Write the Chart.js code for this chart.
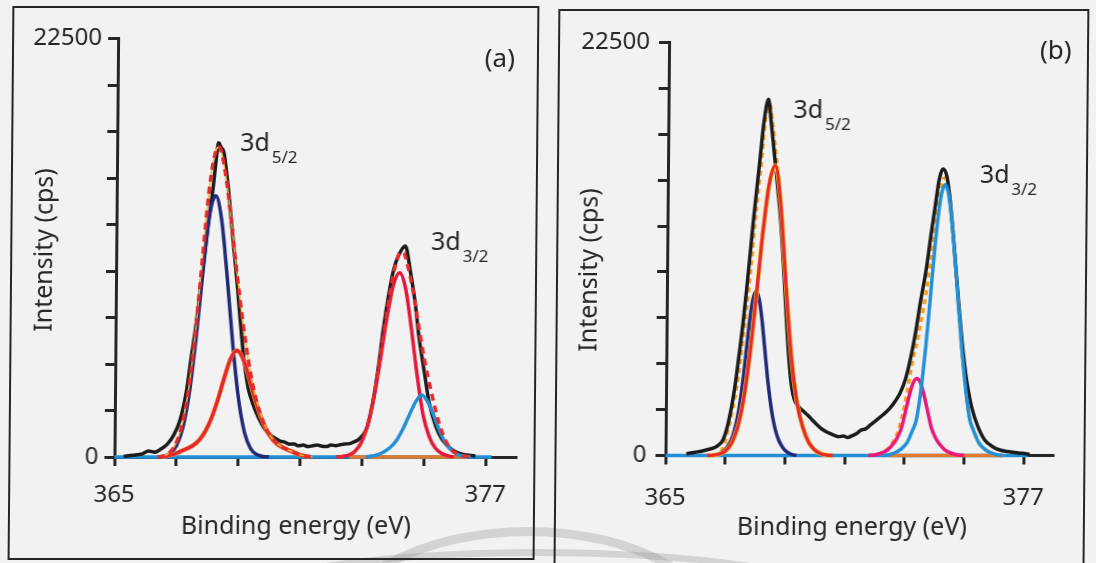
<!DOCTYPE html>
<html>
<head>
<meta charset="utf-8">
<script src="https://cdn.jsdelivr.net/npm/chart.js@4.4.1/dist/chart.umd.min.js"></script>
<style>
  html, body { margin: 0; padding: 0; background: #f2f2f3; }
  #page { position: relative; width: 1096px; height: 563px; overflow: hidden; transform: skewX(-0.5deg); }
  .box { position: absolute; border: 2px solid #262626; }
  #boxA { left: 10px; top: 6px; width: 523px; height: 550px; }
  #boxB { left: 556px; top: 9px; width: 527px; height: 560px; }
  .arc { position: absolute; border-radius: 50%; border-style: solid; border-color: rgba(150, 150, 152, 0.33); }
  #arc1 { left: 330px; top: 527px; width: 382px; height: 208px; border-width: 9px; }
  #arc2 { left: 210px; top: 549px; width: 646px; height: 106px; border-width: 7px; }
  canvas { position: absolute; top: 0; }
  #chartA { left: 0; }
  #chartB { left: 548px; }
</style>
</head>
<body>
<div id="page">
  <div class="arc" id="arc1"></div>
  <div class="arc" id="arc2"></div>
  <div class="box" id="boxA"></div>
  <div class="box" id="boxB"></div>
  <canvas id="chartA" width="548" height="563"></canvas>
  <canvas id="chartB" width="548" height="563"></canvas>
</div>
<script>
// axis ticks (binding energy eV / intensity cps)
const xTicks = [365, 367, 369, 371, 373, 375, 377];
const xLabels = [365, 377];
const yTicks = [0, 2500, 5000, 7500, 10000, 12500, 15000, 17500, 20000, 22500];
const yLabels = [0, 22500];

// ---- panel (a): [energy, intensity] ----
const aBase = [[365.0, 0], [377.2, 0]];
const aTail = [[372.6, 0], [376.4, 0]];
const aData = [[365.3, 40], [365.6, 90], [365.9, 170], [366.1, 320], [366.3, 260], [366.5, 430], [366.7, 680],
  [366.9, 1150], [367.1, 1940], [367.3, 3450], [367.45, 5300], [367.6, 7100], [367.73, 9000], [367.86, 10900],
  [367.99, 12800], [368.12, 14540], [368.22, 16200], [368.28, 16890], [368.36, 16650], [368.45, 16400],
  [368.6, 14540], [368.71, 12740], [368.82, 10940], [368.93, 9140], [369.03, 7340], [369.14, 5540],
  [369.3, 3740], [369.45, 2900], [369.65, 2100], [369.85, 1500], [370.05, 1150], [370.2, 1000], [370.35, 860],
  [370.5, 800], [370.65, 690], [370.8, 700], [370.95, 600], [371.1, 640], [371.25, 560], [371.4, 600],
  [371.55, 650], [371.7, 580], [371.85, 560], [372.0, 640], [372.15, 610], [372.3, 660], [372.45, 700],
  [372.6, 720], [372.75, 820], [372.9, 950], [373.17, 1650], [373.38, 3350], [373.53, 5100], [373.66, 6900],
  [373.82, 8700], [373.98, 10100], [374.15, 10900], [374.35, 11340], [374.52, 9950], [374.68, 8300],
  [374.81, 6500], [375.0, 4530], [375.16, 2920], [375.38, 1660], [375.59, 940], [375.91, 400], [376.24, 150],
  [376.67, 50]];
const aNavy = [[366.4, 0], [366.6, 40], [366.8, 180], [367.0, 600], [367.2, 1550], [367.4, 3400], [367.6, 6300],
  [367.8, 9800], [368.0, 12900], [368.2, 14040], [368.4, 12760], [368.6, 9590], [368.8, 5960], [369.0, 3060],
  [369.2, 1300], [369.4, 455], [369.6, 130], [369.8, 30], [370.0, 0]];
const aSat = [[366.53, 0], [366.73, 60], [366.93, 150], [367.13, 300], [367.33, 440], [367.53, 610],
  [367.73, 900], [367.93, 1380], [368.13, 2110], [368.33, 3100], [368.53, 4260], [368.73, 5290], [368.93, 5720],
  [369.13, 5290], [369.33, 4260], [369.53, 3100], [369.73, 2110], [369.93, 1380], [370.13, 900], [370.33, 610],
  [370.53, 440], [370.73, 300], [370.93, 150], [371.13, 60], [371.33, 0]];
const aHigh = [[372.17, 0], [372.37, 30], [372.57, 100], [372.77, 300], [372.97, 760], [373.17, 1660],
  [373.37, 3160], [373.57, 5210], [373.77, 7450], [373.97, 9230], [374.17, 9910], [374.37, 9040],
  [374.57, 6840], [374.77, 4310], [374.97, 2250], [375.17, 1100], [375.37, 480], [375.57, 200], [375.77, 70],
  [375.97, 0]];
const aBlue = [[373.12, 0], [373.32, 50], [373.52, 130], [373.72, 280], [373.92, 520], [374.12, 900],
  [374.32, 1500], [374.52, 2250], [374.72, 2950], [374.92, 3330], [375.12, 2950], [375.32, 2200],
  [375.52, 1350], [375.72, 700], [375.92, 320], [376.12, 120], [376.32, 40], [376.52, 0]];
const aFit52 = [[366.4, 0], [366.6, 60], [366.8, 270], [367.0, 800], [367.2, 1900], [367.4, 3900], [367.6, 7010],
  [367.8, 10870], [368.0, 14530], [368.2, 16490], [368.3, 16660], [368.4, 16220], [368.6, 14210],
  [368.8, 11440], [369.0, 8680], [369.2, 6300], [369.4, 4315], [369.6, 2880], [369.8, 1890], [370.0, 1210],
  [370.2, 800], [370.4, 550], [370.6, 390], [370.8, 250], [371.0, 120], [371.2, 40], [371.4, 0]];
const aFit32 = [[372.2, 0], [372.4, 35], [372.6, 120], [372.8, 350], [373.0, 860], [373.2, 1880], [373.4, 3520],
  [373.6, 5740], [373.8, 8140], [374.0, 10070], [374.2, 11010], [374.3, 10980], [374.4, 10490],
  [374.6, 8990], [374.8, 7050], [375.0, 5210], [375.2, 3700], [375.4, 2320], [375.6, 1280], [375.8, 590],
  [376.0, 240], [376.2, 90], [376.4, 30], [376.6, 0]];

// ---- panel (b) ----
const bBase = [[365.0, 0], [377.15, 0]];
const bTail = [[372.5, 0], [376.3, 0]];
const bData = [[365.7, 100], [366.0, 180], [366.2, 230], [366.36, 300], [366.55, 380], [366.7, 480],
  [366.92, 845], [367.09, 1755], [367.29, 3570], [367.43, 5390], [367.56, 7205], [367.67, 9020],
  [367.77, 10835], [367.87, 12655], [367.98, 14470], [368.09, 16285], [368.2, 18105], [368.35, 19410],
  [368.45, 18105], [368.57, 16285], [368.69, 14470], [368.8, 12655], [368.88, 10835], [368.95, 9020],
  [369.02, 7205], [369.1, 5390], [369.2, 3800], [369.3, 3050], [369.45, 2650], [369.6, 2420], [369.75, 2200],
  [369.9, 1950], [370.05, 1700], [370.2, 1480], [370.35, 1320], [370.5, 1200], [370.65, 1100],
  [370.8, 1020], [370.95, 1060], [371.1, 980], [371.25, 1080], [371.4, 1200], [371.55, 1390], [371.7, 1450],
  [371.85, 1650], [372.0, 1850], [372.15, 2050], [372.3, 2250], [372.5, 2570], [372.7, 3000],
  [372.84, 3390], [373.01, 4115], [373.17, 5200], [373.34, 6660], [373.51, 8475], [373.68, 10110],
  [373.84, 12110], [373.98, 13745], [374.09, 15015], [374.21, 15600], [374.35, 15195], [374.46, 13925],
  [374.57, 12110], [374.68, 10110], [374.79, 8110], [374.91, 6115], [375.05, 4295], [375.24, 2660],
  [375.46, 1570], [375.69, 845], [375.96, 480], [376.2, 300], [376.45, 220], [376.7, 160], [376.95, 120],
  [377.2, 60]];
const bNavy = [[366.59, 0], [366.79, 80], [366.99, 300], [367.09, 520], [367.19, 830], [367.29, 1300],
  [367.39, 2000], [367.49, 3000], [367.59, 4300], [367.69, 5900], [367.79, 7450], [367.89, 8550],
  [367.99, 8930], [368.09, 8550], [368.19, 7450], [368.29, 5900], [368.39, 4300], [368.49, 3000],
  [368.59, 2000], [368.69, 1300], [368.79, 830], [368.89, 520], [368.99, 300], [369.19, 80], [369.39, 0]];
const bSat = [[366.4, 0], [366.6, 20], [366.8, 80], [367.0, 237], [367.2, 635], [367.4, 1490], [367.6, 3060],
  [367.8, 5530], [368.0, 8760], [368.2, 12150], [368.4, 14800], [368.6, 15800], [368.8, 13500], [369.0, 9000],
  [369.2, 5200], [369.4, 2800], [369.6, 1500], [369.8, 700], [370.0, 300], [370.2, 100], [370.4, 25],
  [370.6, 0]];
const bPink = [[371.8, 0], [372.0, 30], [372.2, 110], [372.4, 260], [372.5, 400], [372.6, 580], [372.7, 800],
  [372.8, 1100], [372.9, 1510], [373.0, 2190], [373.1, 2910], [373.2, 3570], [373.3, 4030], [373.4, 4200],
  [373.5, 4030], [373.6, 3570], [373.7, 2910], [373.8, 2190], [373.9, 1510], [374.0, 1100], [374.1, 800],
  [374.2, 580], [374.3, 400], [374.4, 260], [374.6, 110], [374.8, 30], [375.0, 0]];
const bBlue = [[372.29, 0], [372.49, 50], [372.69, 150], [372.89, 350], [373.09, 700], [373.29, 1450],
  [373.39, 1910], [373.49, 2930], [373.59, 4280], [373.69, 5940], [373.79, 7840], [373.89, 9840],
  [373.99, 11740], [374.09, 13320], [374.19, 14370], [374.29, 14740], [374.39, 14370], [374.49, 13320],
  [374.59, 11740], [374.69, 9840], [374.79, 7840], [374.89, 5940], [374.99, 4280], [375.09, 2930],
  [375.19, 1910], [375.29, 1450], [375.49, 700], [375.69, 350], [375.89, 150], [376.09, 50], [376.29, 0]];
const bFit52 = [[366.6, 0], [366.81, 120], [366.98, 665], [367.14, 1755], [367.35, 3570], [367.5, 5390],
  [367.62, 7205], [367.74, 9020], [367.84, 10835], [367.93, 12655], [368.04, 14470], [368.15, 16285],
  [368.24, 18105], [368.41, 19100], [368.48, 18300], [368.59, 16800], [368.7, 15200], [368.8, 13400],
  [368.9, 11300], [369.0, 9100], [369.2, 5300], [369.4, 2850], [369.6, 1550], [369.8, 720], [370.0, 310],
  [370.2, 100], [370.4, 25], [370.6, 0]];
const bFit32 = [[371.8, 0], [372.0, 30], [372.2, 110], [372.4, 290], [372.6, 690], [372.8, 1380], [373.0, 2730],
  [373.1, 3670], [373.2, 4670], [373.3, 5530], [373.4, 6200], [373.5, 7080], [373.6, 8000], [373.7, 9030],
  [373.8, 10230], [373.9, 11540], [374.0, 13000], [374.1, 14220], [374.2, 14980], [374.3, 15130],
  [374.4, 14560], [374.5, 13380], [374.6, 11670], [374.7, 9640], [374.8, 7640], [374.9, 5760], [375.0, 4130],
  [375.1, 2830], [375.2, 1860], [375.3, 1430], [375.5, 680], [375.7, 340], [375.9, 140], [376.1, 40],
  [376.3, 0]];

const INK = '#262626';
Chart.defaults.font.family = '"Noto Sans", "DejaVu Sans", sans-serif';
Chart.defaults.color = INK;

// text labels drawn on top (peak names, panel letter, axis titles)
const panelText = {
  id: 'panelText',
  afterDraw(chart, args, opts) {
    const ctx = chart.ctx;
    const xs = chart.scales.x, ys = chart.scales.y;
    opts.items.forEach(t => {
      const px = t.px !== undefined ? t.px : xs.getPixelForValue(t.x);
      const py = t.py !== undefined ? t.py : ys.getPixelForValue(t.y);
      ctx.save();
      ctx.fillStyle = INK;
      ctx.translate(px, py);
      if (t.rotate) ctx.rotate(t.rotate);
      ctx.font = (t.size || 25) + 'px "Noto Sans"';
      ctx.textAlign = t.align || 'left';
      ctx.textBaseline = t.baseline || 'alphabetic';
      ctx.fillText(t.text, 0, 0);
      if (t.sub) {
        const w = ctx.measureText(t.text).width;
        ctx.font = '17px "Noto Sans"';
        ctx.fillText(t.sub, w + 2, 12);
      }
      ctx.restore();
    });
  }
};

function line(pts, color, width, more) {
  return Object.assign({
    data: pts.map(p => ({ x: p[0], y: p[1] })),
    borderColor: color,
    borderWidth: width,
    pointRadius: 0,
    fill: false,
    cubicInterpolationMode: 'monotone',
    clip: false
  }, more || {});
}

function drawPanel(id, datasets, cfg) {
  // datasets are listed bottom to top; chart.js draws higher `order` first
  datasets.forEach((d, i) => { d.order = datasets.length - i; });
  return new Chart(document.getElementById(id), {
    type: 'line',
    data: { datasets: datasets },
    plugins: [panelText],
    options: {
      responsive: false,
      animation: false,
      events: [],
      layout: { padding: { top: cfg.top, right: cfg.right, bottom: 0, left: 0 } },
      plugins: {
        legend: { display: false },
        tooltip: { enabled: false },
        panelText: { items: cfg.items }
      },
      scales: {
        x: {
          type: 'linear', min: 365, max: 378,
          afterBuildTicks: s => { s.ticks = xTicks.map(v => ({ value: v })); },
          afterFit: s => { s.height = cfg.xh; },
          grid: { drawOnChartArea: false, tickLength: 9, tickWidth: 3, tickColor: INK },
          border: { color: INK, width: 3 },
          ticks: {
            autoSkip: false, maxRotation: 0, padding: cfg.xpad, color: INK, font: { size: 24 },
            callback: v => xLabels.includes(v) ? String(v) : ''
          }
        },
        y: {
          type: 'linear', min: 0, max: 22500,
          afterBuildTicks: s => { s.ticks = yTicks.map(v => ({ value: v })); },
          afterFit: s => { s.width = cfg.yw; },
          grid: { drawOnChartArea: false, tickLength: 10, tickWidth: 3, tickColor: INK },
          border: { color: INK, width: 3 },
          ticks: {
            padding: cfg.ypad, color: INK, font: { size: 24 },
            callback: v => yLabels.includes(v) ? String(v) : ''
          }
        }
      }
    }
  });
}

drawPanel('chartA', [
  line(aBase, '#2290d6', 3.5),
  line(aTail, '#df7a30', 3.5),
  line(aData, '#1c1c1c', 3.5),
  line(aNavy, '#1f2a78', 3.5),
  line(aSat, '#f0812c', 4.5),
  line(aSat, '#e5262e', 3.2),
  line(aHigh, '#e4183b', 3.5),
  line(aBlue, '#2290d6', 3.5),
  line(aFit52, '#f2b53a', 1.5),
  line(aFit52, '#e52a2a', 3.5, { borderDash: [7, 5] }),
  line(aFit32, '#e52a2a', 3.5, { borderDash: [7, 5] })
], {
  top: 38.5, right: 30, xh: 106, yw: 116, xpad: 15, ypad: 6,
  items: [
    { text: '3d', sub: '5/2', x: 368.98, y: 16460 },
    { text: '3d', sub: '3/2', x: 375.18, y: 11150 },
    { text: '(a)', x: 377.35, y: 21340, align: 'center', baseline: 'middle', size: 26 },
    { text: 'Binding energy (eV)', px: 298, py: 527, align: 'center', baseline: 'middle' },
    { text: 'Intensity (cps)', px: 45, py: 250, align: 'center', baseline: 'middle', rotate: -Math.PI / 2 }
  ]
});

// in (b) the dashed fit sits under the measured curve and the components
drawPanel('chartB', [
  line(bBase, '#2290d6', 3.5),
  line(bTail, '#df7a30', 3.5),
  line(bFit52, '#f5a01e', 3.5, { borderDash: [5, 4] }),
  line(bFit32, '#f5a01e', 3.5, { borderDash: [5, 4] }),
  line(bData, '#1c1c1c', 3.5),
  line(bNavy, '#1f2a78', 3.5),
  line(bSat, '#f3c21c', 4.5),
  line(bSat, '#e82a2f', 3.3),
  line(bPink, '#e8197a', 3.5),
  line(bBlue, '#2290d6', 3.5)
], {
  top: 42.4, right: 41, xh: 107.5, yw: 119, xpad: 19, ypad: 9,
  items: [
    { text: '3d', sub: '5/2', x: 369.19, y: 18370 },
    { text: '3d', sub: '3/2', x: 375.45, y: 14850 },
    { text: '(b)', x: 377.96, y: 22000, align: 'center', baseline: 'middle', size: 26 },
    { text: 'Binding energy (eV)', px: 306, py: 528, align: 'center', baseline: 'middle' },
    { text: 'Intensity (cps)', px: 42, py: 270, align: 'center', baseline: 'middle', rotate: -Math.PI / 2 }
  ]
});
</script>
</body>
</html>
